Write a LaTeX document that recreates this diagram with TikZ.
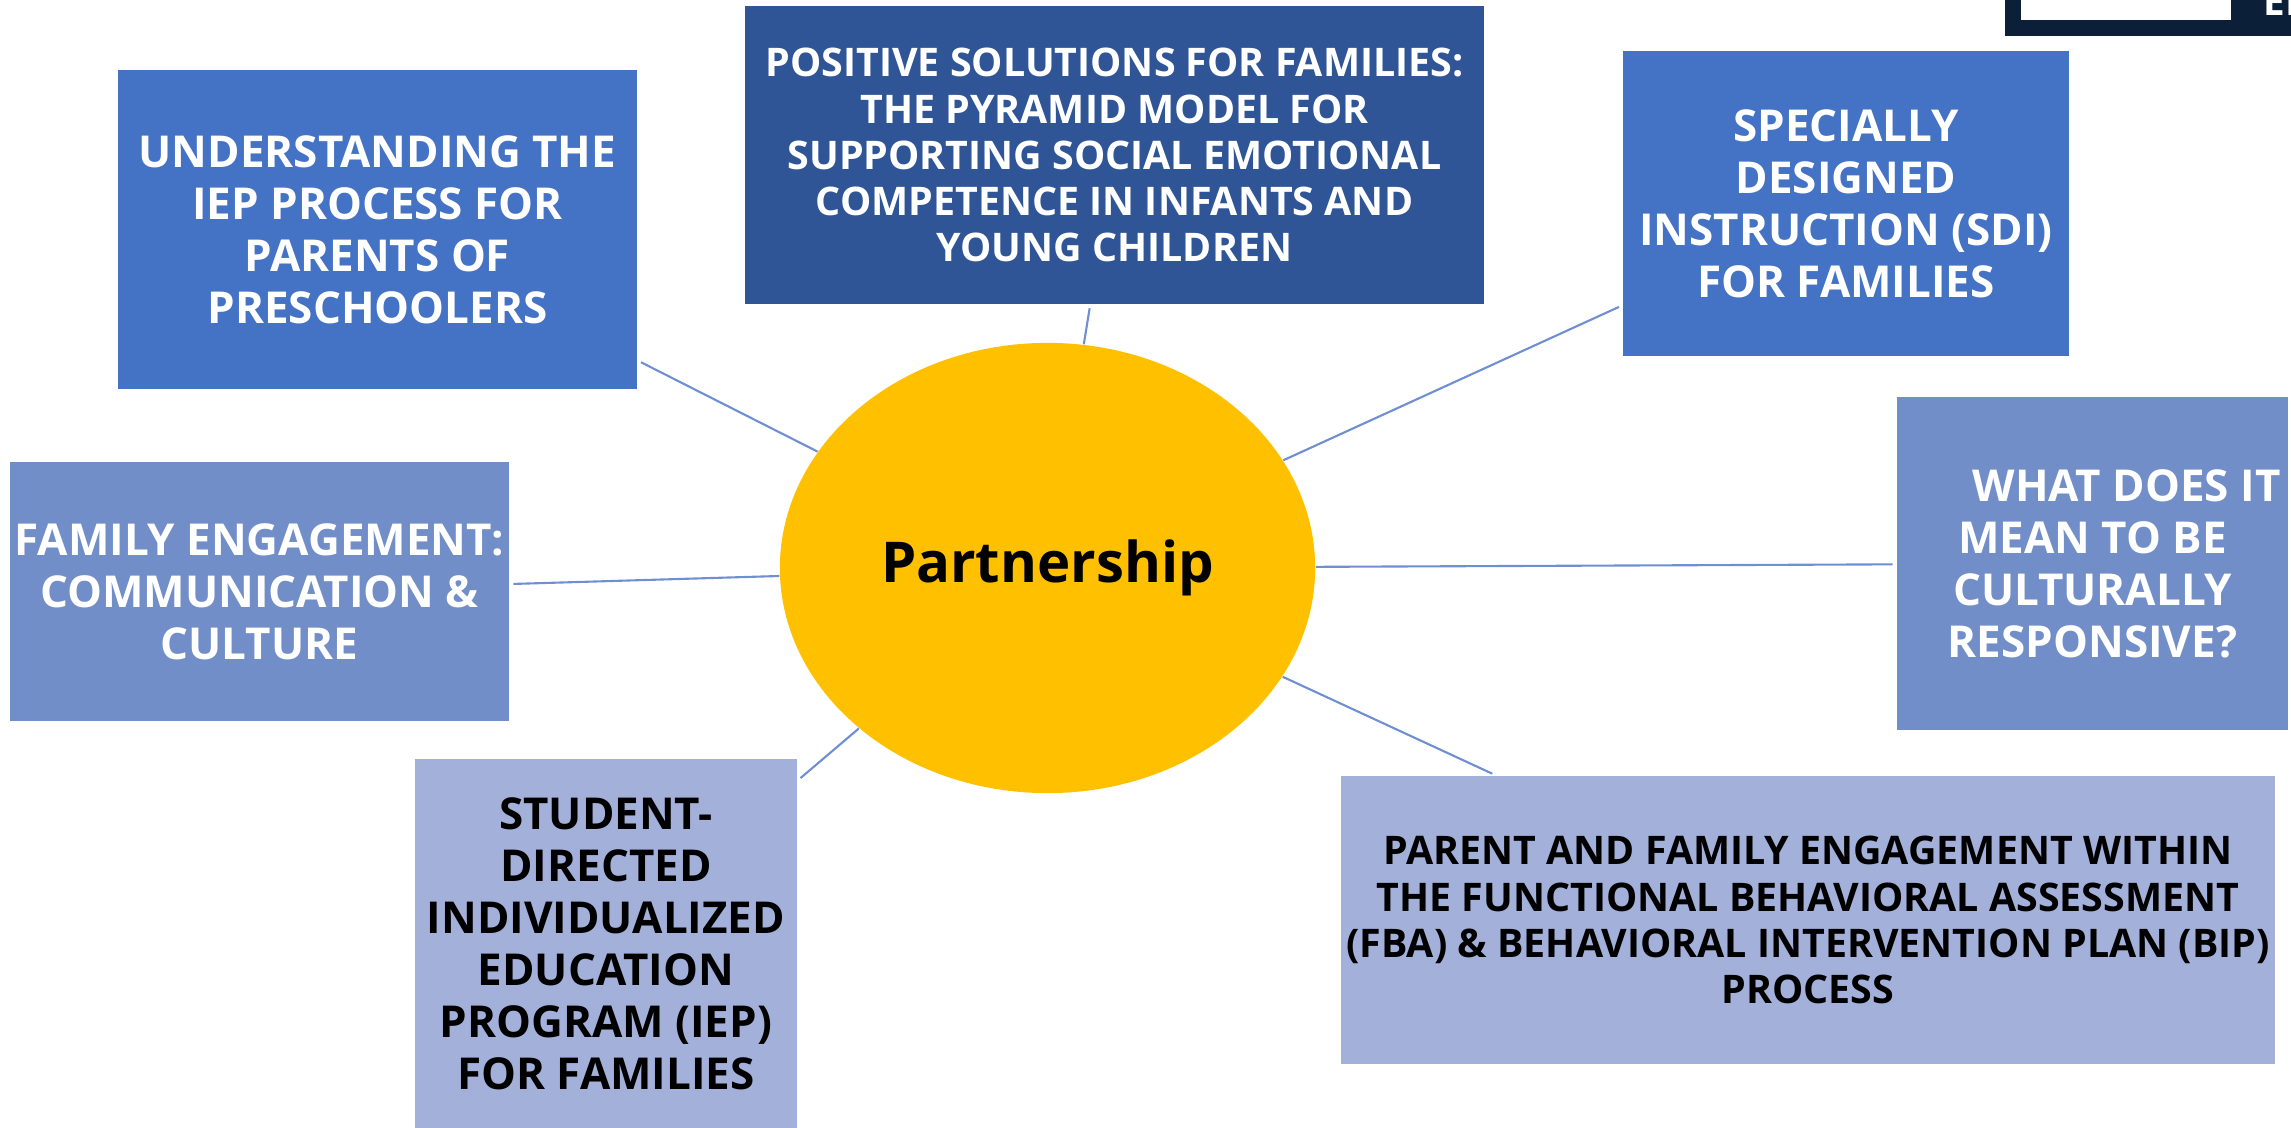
\documentclass[tikz,border=0pt]{standalone}
\usepackage{fontspec}
\setmainfont{Open Sans}
\usetikzlibrary{shapes.geometric}

\definecolor{midblue}{HTML}{4472C4}
\definecolor{darkblue}{HTML}{2F5597}
\definecolor{softblue}{HTML}{728EC8}
\definecolor{paleblue}{HTML}{A3B1DA}
\definecolor{gold}{HTML}{FFC000}
\definecolor{linkblue}{HTML}{6F8FD2}
\definecolor{navy}{HTML}{0B1F38}

\begin{document}
\begin{tikzpicture}[x=0.01cm, y=-0.01cm,
        topic/.style={rectangle, align=center, inner sep=0pt,
                font=\fontsize{12.5}{14.8}\selectfont\bfseries},
        small/.style={font=\fontsize{11.2}{13.1}\selectfont\bfseries},
        link/.style={draw=linkblue, line width=0.6pt, shorten >=1pt}]
        \useasboundingbox (0,0) rectangle (2291,1128);

        \fill[navy] (2005,0) rectangle (2291,36);
        \fill[white] (2021,0) rectangle (2231,20);
        \node[anchor=base west, inner sep=0pt, text=white,
                font=\fontsize{11}{13}\selectfont\bfseries] (logo) at (2263,16) {EN};

        \node[ellipse, fill=gold, inner sep=0pt, minimum width=5.35cm, minimum height=4.5cm,
                font=\fontsize{16}{19}\selectfont\bfseries] (hub) at (1047.5,568) {Partnership};

        \node[topic, fill=midblue, text=white, minimum width=5.19cm, minimum height=3.19cm]
                (iep) at (377.5,229.5) {UNDERSTANDING THE\\IEP PROCESS FOR\\PARENTS OF\\PRESCHOOLERS};
        \node[topic, small, fill=darkblue, text=white, minimum width=7.39cm, minimum height=2.98cm]
                (pyramid) at (1114.5,155) {POSITIVE SOLUTIONS FOR FAMILIES:\\THE PYRAMID MODEL FOR\\SUPPORTING SOCIAL EMOTIONAL\\COMPETENCE IN INFANTS AND\\YOUNG CHILDREN};
        \node[topic, fill=midblue, text=white, minimum width=4.46cm, minimum height=3.05cm]
                (sdi) at (1846,203.5) {SPECIALLY\\DESIGNED\\INSTRUCTION (SDI)\\FOR FAMILIES};
        \node[topic, fill=softblue, text=white, minimum width=3.91cm, minimum height=3.33cm]
                (culture) at (2092.5,563.5) {\hspace*{0.68cm}WHAT DOES IT\\MEAN TO BE\\CULTURALLY\\RESPONSIVE?};
        \node[topic, fill=softblue, text=white, minimum width=4.99cm, minimum height=2.59cm]
                (engage) at (259.5,591.5) {FAMILY ENGAGEMENT:\\COMMUNICATION \&\\CULTURE};
        \node[topic, fill=paleblue, text=black, minimum width=3.82cm, minimum height=3.69cm]
                (student) at (606,943.5) {STUDENT-\\DIRECTED\\INDIVIDUALIZED\\EDUCATION\\PROGRAM (IEP)\\FOR FAMILIES};
        \node[topic, small, fill=paleblue, text=black, minimum width=9.34cm, minimum height=2.88cm]
                (fba) at (1808,920) {PARENT AND FAMILY ENGAGEMENT WITHIN\\THE FUNCTIONAL BEHAVIORAL ASSESSMENT\\(FBA) \& BEHAVIORAL INTERVENTION PLAN (BIP)\\PROCESS};

        \draw[link] (hub) -- (iep);
        \draw[link] (hub) -- (pyramid);
        \draw[link] (hub) -- (sdi);
        \draw[link] (hub) -- (culture);
        \draw[link] (hub) -- (engage);
        \draw[link] (hub) -- (student);
        \draw[link] (hub) -- (fba);
\end{tikzpicture}
\end{document}
